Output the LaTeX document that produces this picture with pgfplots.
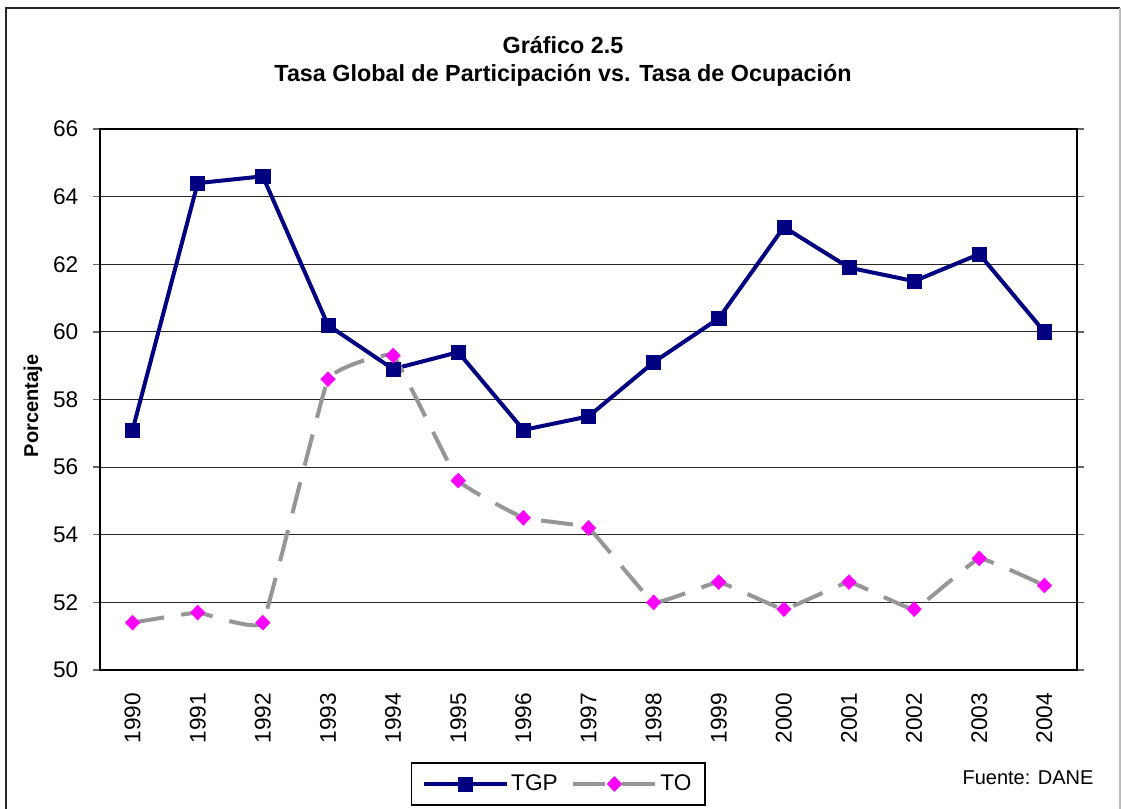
\documentclass[border=0pt]{standalone}
\usepackage{fontspec}
\setmainfont{Liberation Sans}
\usepackage{pgfplots}
\pgfplotsset{compat=1.18}
\definecolor{tgp}{RGB}{0,0,128}
\definecolor{tocol}{RGB}{150,150,150}
\definecolor{mag}{RGB}{255,0,255}
\newcommand{\fs}{\fontsize{15}{18}\selectfont}
\newcommand{\ft}{\fontsize{17}{20}\selectfont}
\newcommand{\fl}{\fontsize{17}{20}\selectfont}
\newcommand{\fh}{\fontsize{17.5}{21}\selectfont}
\begin{document}
\begin{tikzpicture}
\useasboundingbox (0,0) rectangle (841.5pt,-606.75pt);
\begin{scope}[x=0.75pt,y=-0.75pt]
\fill[white] (0,0) rectangle (1122,809);
\draw[black!85, line width=1.2pt] (6,809) -- (6,8) -- (1120,8);
\draw[black!25, line width=1pt] (1120,8) -- (1120,809);
\node[font=\fh\bfseries] at (563,45) {Gráfico 2.5};
\node[font=\fh\bfseries] at (563,75) {Tasa Global de Participación vs. Tasa de Ocupación};
\node[font=\fs\bfseries, rotate=90] at (33,406) {Porcentaje};
\node[font=\fs] at (1028,778) {Fuente: DANE};
\end{scope}
\begin{axis}[
  at={(75pt,-502.5pt)}, anchor=south west,
  scale only axis, width=732.75pt, height=405.75pt,
  xmin=-0.5, xmax=14.5, ymin=50, ymax=66,
  ytick={50,52,...,66},
  xtick={0,...,14},
  xticklabels={1990,1991,1992,1993,1994,1995,1996,1997,1998,1999,2000,2001,2002,2003,2004},
  minor xtick={-0.5,0.5,...,14.5},
  tick align=outside,
  major tick length=5.25pt,
  minor tick length=5.25pt,
  xtick style={draw=none},
  minor x tick style={black, line width=1pt},
  y tick style={black!60, line width=1pt},
  ymajorgrids,
  grid style={black!85, line width=0.8pt},
  axis line style={black, line width=1pt},
  tick label style={font=\ft},
  /pgf/number format/assume math mode=true,
  xticklabel style={yshift=-8.5pt, rotate=90, anchor=east},
  yticklabel style={xshift=-7.5pt},
  legend image code/.code={\draw[#1, mark repeat=2, mark phase=2] plot coordinates {(0pt,0pt) (31pt,0pt) (62pt,0pt)};},
  legend style={at={(0.4688,-0.2107)}, anchor=center, draw=black, line width=1pt,
    font=\fl, legend columns=2, inner xsep=8pt, inner ysep=7pt,
    /tikz/every even column/.append style={column sep=8pt}},
  clip=false,
]
\addplot[tgp, line width=3pt, mark=square*, mark size=5.3pt, mark options={solid, line width=0.5pt}]
  coordinates {(0,57.1) (1,64.4) (2,64.6) (3,60.2) (4,58.9) (5,59.4) (6,57.1) (7,57.5) (8,59.1) (9,60.4) (10,63.1) (11,61.9) (12,61.5) (13,62.3) (14,60.0)};
\addlegendentry{TGP}
\addplot[tocol, line width=3pt, dash pattern=on 24pt off 13pt, smooth, tension=0.15, mark=diamond*, mark size=5.5pt,
  mark options={solid, fill=mag, draw=mag, line width=0.5pt, xscale=1.3}]
  coordinates {(0,51.4) (1,51.7) (2,51.4) (3,58.6) (4,59.3) (5,55.6) (6,54.5) (7,54.2) (8,52.0) (9,52.6) (10,51.8) (11,52.6) (12,51.8) (13,53.3) (14,52.5)};
\addlegendentry{TO}
\end{axis}
\end{tikzpicture}
\end{document}
